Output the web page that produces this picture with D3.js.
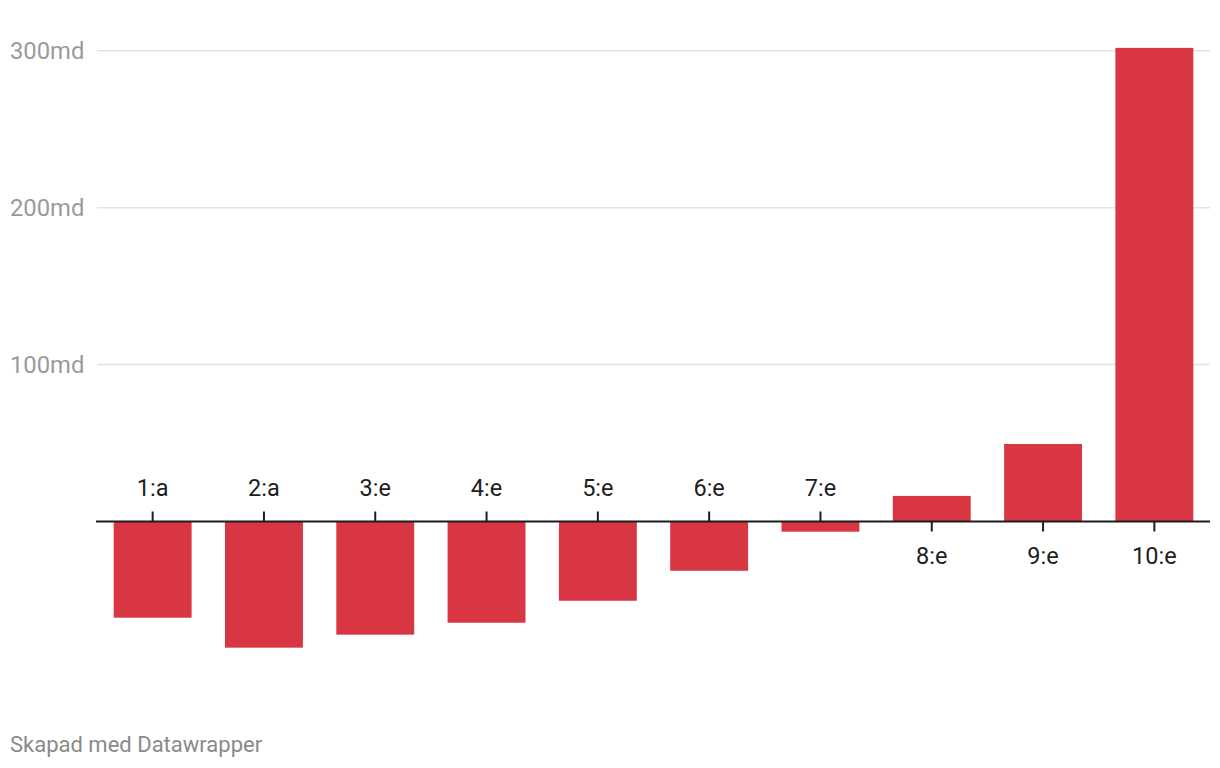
<!DOCTYPE html>
<html>
<head>
<meta charset="utf-8">
<script src="https://cdn.jsdelivr.net/npm/d3@7"></script>
<style>
  body { margin: 0; background: #fff; }
  text { font-family: Roboto, "Noto Sans", sans-serif; }
</style>
</head>
<body>
<div id="chart"></div>
<script>
// data (billions, "md")
var categories = ["1:a", "2:a", "3:e", "4:e", "5:e", "6:e", "7:e", "8:e", "9:e", "10:e"];
var values = [-61.3, -80.4, -72.1, -64.5, -50.5, -31.4, -6.5, 16.3, 49.4, 301.8];
var yTicks = [100, 200, 300];
var yTickLabels = ["100md", "200md", "300md"];

var width = 1220, height = 768;

var svg = d3.select("#chart").append("svg")
    .attr("width", width)
    .attr("height", height);

// set the ranges
var x = d3.scaleBand()
    .domain(categories)
    .range([97, 1210])
    .paddingInner(0.3)
    .paddingOuter(0.15);

var y = d3.scaleLinear()
    .domain([0, 300])
    .range([521.5, 50.7]);

// gridlines
svg.append("g").selectAll("line")
    .data(yTicks)
  .enter().append("line")
    .attr("x1", 97)
    .attr("x2", 1210)
    .attr("y1", function(d) { return y(d); })
    .attr("y2", function(d) { return y(d); })
    .attr("stroke", "#e3e3e3")
    .attr("stroke-width", 1.5);

// y labels
svg.append("g").selectAll("text")
    .data(yTicks)
  .enter().append("text")
    .attr("x", 10)
    .attr("y", function(d) { return y(d); })
    .attr("dy", "0.35em")
    .attr("fill", "#9a9a9a")
    .style("font-size", "23.8px")
    .text(function(d, i) { return yTickLabels[i]; });

// bars
svg.append("g").selectAll("rect")
    .data(values)
  .enter().append("rect")
    .attr("x", function(d, i) { return x(categories[i]); })
    .attr("width", x.bandwidth())
    .attr("y", function(d) { return y(Math.max(0, d)); })
    .attr("height", function(d) { return Math.abs(y(d) - y(0)); })
    .attr("fill", "#d83642");

// zero axis
svg.append("line")
    .attr("x1", 96)
    .attr("x2", 1210)
    .attr("y1", y(0))
    .attr("y2", y(0))
    .attr("stroke", "#1d1d1d")
    .attr("stroke-width", 2);

// ticks: above the axis for negative bars, below for positive
svg.append("g").selectAll("line")
    .data(values)
  .enter().append("line")
    .attr("x1", function(d, i) { return x(categories[i]) + x.bandwidth() / 2; })
    .attr("x2", function(d, i) { return x(categories[i]) + x.bandwidth() / 2; })
    .attr("y1", y(0))
    .attr("y2", function(d) { return d < 0 ? y(0) - 10 : y(0) + 10; })
    .attr("stroke", "#1d1d1d")
    .attr("stroke-width", 2);

// category labels
svg.append("g").selectAll("text")
    .data(values)
  .enter().append("text")
    .attr("x", function(d, i) { return x(categories[i]) + x.bandwidth() / 2; })
    .attr("y", function(d) { return d < 0 ? y(0) - 25.5 : y(0) + 42; })
    .attr("text-anchor", "middle")
    .attr("fill", "#1d1d1d")
    .style("font-size", "23.5px")
    .text(function(d, i) { return categories[i]; });

// footer
svg.append("text")
    .attr("x", 10)
    .attr("y", 752)
    .attr("fill", "#8a8a8a")
    .style("font-size", "22px")
    .text("Skapad med Datawrapper");
</script>
</body>
</html>
